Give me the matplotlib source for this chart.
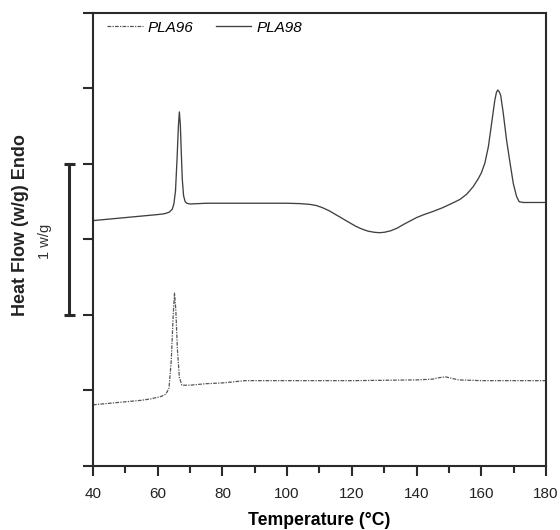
import matplotlib
matplotlib.use("Agg")
import matplotlib.pyplot as plt
from matplotlib.transforms import blended_transform_factory

plt.rcParams["font.family"] = ["Liberation Sans", "DejaVu Sans"]

# DSC curves (temperature in C, heat flow in plot units)
t98 = [40, 45, 50, 55, 60, 62, 63.5, 64.5, 65, 65.5, 66, 66.4, 66.7, 67.0, 67.3, 67.6,
       68, 68.5, 69, 70, 75, 80, 90, 100, 104, 107, 109, 111, 113, 115, 117, 119, 121,
       123, 125, 127, 128.5, 130, 132, 134, 136, 138, 140, 142, 145, 148, 151, 153.4,
       155.5, 157.5, 159, 160, 161.1, 162.2, 163.2, 164.2, 164.7, 165.1, 165.5, 166.0,
       166.8, 167.8, 168.9, 169.9, 170.9, 171.7, 173, 180]
hf98 = [3.25, 3.27, 3.29, 3.31, 3.33, 3.34, 3.36, 3.40, 3.47, 3.64, 4.08, 4.50, 4.69,
        4.52, 4.15, 3.80, 3.58, 3.50, 3.48, 3.47, 3.48, 3.48, 3.48, 3.48, 3.475, 3.465,
        3.45, 3.42, 3.38, 3.33, 3.28, 3.23, 3.18, 3.14, 3.11, 3.095, 3.09, 3.095, 3.115,
        3.15, 3.20, 3.245, 3.29, 3.325, 3.37, 3.42, 3.48, 3.53, 3.60, 3.70, 3.80, 3.88,
        4.01, 4.23, 4.54, 4.85, 4.95, 4.98, 4.96, 4.91, 4.67, 4.32, 4.01, 3.74, 3.57,
        3.50, 3.49, 3.49]

t96 = [40, 45, 50, 55, 58, 61, 62.5, 63.5, 64.2, 64.8, 65.2, 65.6, 66.1, 66.7, 67.5,
       70, 75, 80, 87, 100, 120, 140, 145, 147, 149, 151, 153, 160, 180]
hf96 = [0.81, 0.83, 0.85, 0.87, 0.89, 0.92, 0.95, 1.03, 1.40, 2.00, 2.29, 2.07, 1.54,
        1.17, 1.07, 1.07, 1.09, 1.10, 1.13, 1.13, 1.13, 1.14, 1.15, 1.17, 1.18, 1.16,
        1.14, 1.13, 1.13]

xticks = list(range(40, 181, 20))
labels = ["PLA96", "PLA98"]

ink = "#2a2a2a"
fig = plt.figure(figsize=(5.6, 5.3), dpi=100)
ax = fig.add_axes([0.166, 0.1208, 0.809, 0.8547])

ax.plot(t96, hf96, color="#555555", lw=0.9, ls=(0, (3, 1, 1, 1)), label=labels[0])
ax.plot(t98, hf98, color="#404040", lw=0.95, ls="-", label=labels[1])

ax.set_xlim(40, 180)
ax.set_ylim(0, 6)
ax.set_xticks(xticks)
ax.set_xticks(range(50, 180, 20), minor=True)
ax.set_yticks(range(0, 7))
ax.set_yticklabels([])
ax.tick_params(axis="both", which="major", direction="out", length=7, width=1.5,
               color=ink, labelsize=11, labelcolor="#222222", pad=8)
ax.tick_params(axis="x", which="minor", direction="out", length=5, width=1.5, color=ink)
for s in ax.spines.values():
    s.set_linewidth(1.5)
    s.set_color(ink)

ax.set_xlabel("Temperature (°C)", fontsize=12.7, fontweight="bold", labelpad=8)

# 1 w/g scale bar left of the axis
tr = blended_transform_factory(fig.transFigure, ax.transData)
xb = 69 / 560
cap = 5.5 / 560
ax.plot([xb, xb], [2, 4], color=ink, lw=2.2, transform=tr, clip_on=False)
for yv in (2, 4):
    ax.plot([xb - cap, xb + cap], [yv, yv], color=ink, lw=2.2, transform=tr,
            clip_on=False, solid_capstyle="butt")
fig.text(45 / 560, 1 - 241 / 530, "1 w/g", rotation=90, ha="center", va="center",
         fontsize=10.5, color="#333333")
fig.text(21 / 560, 1 - 225 / 530, "Heat Flow (w/g) Endo", rotation=90, ha="center",
         va="center", fontsize=13, fontweight="bold", color="#222222")

leg = ax.legend(loc="upper left", ncol=2, frameon=False, handlelength=2.3,
                handletextpad=0.35, columnspacing=1.45, borderaxespad=0.1,
                bbox_to_anchor=(0.015, 1.0), prop={"style": "italic", "size": 11})

fig.savefig("out.png", dpi=100)
